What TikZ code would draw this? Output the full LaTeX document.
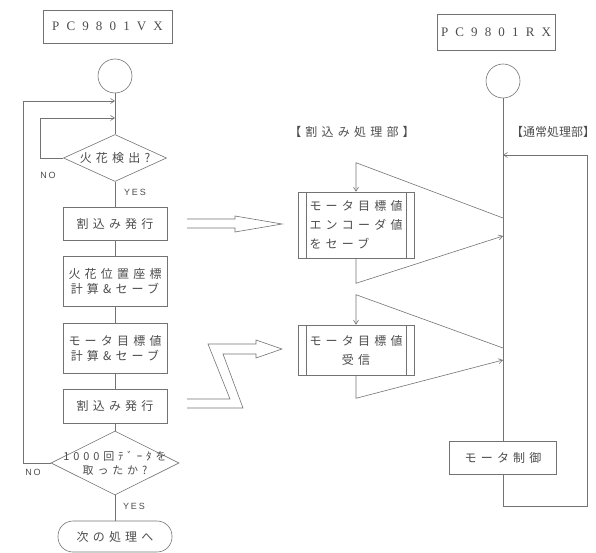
\documentclass[tikz,border=0pt]{standalone}
\usepackage{fontspec}
\usepackage{tikz}
\usetikzlibrary{arrows.meta,positioning,shapes.geometric}
\newfontfamily\jpfont[LetterSpace=35]{Noto Sans CJK JP}
\newfontfamily\jptight{Noto Sans CJK JP}
\newfontfamily\pcfont[LetterSpace=55]{Liberation Serif}
\newfontfamily\ynfont[LetterSpace=20]{Liberation Sans}

\begin{document}
\begin{tikzpicture}[x=1pt,y=-1pt,
  wire/.style={draw=black!55, line width=0.6pt},
  arr/.style={wire, -{Straight Barb[length=4pt,width=5pt]}},
  txt/.style={text=black!70},
  pcbox/.style={wire, txt, rectangle, inner sep=0pt, font=\pcfont\fontsize{13}{15}\selectfont},
  startc/.style={wire, circle, minimum size=34pt, inner sep=0pt},
  proc/.style={wire, txt, rectangle, inner sep=0pt, minimum width=104pt, align=center,
    font=\jpfont\fontsize{12}{15}\selectfont},
  sub/.style={proc, minimum width=116pt, font=\jpfont\fontsize{12}{19}\selectfont,
    path picture={
      \draw[wire] ([xshift=8pt]path picture bounding box.north west) -- ([xshift=8pt]path picture bounding box.south west);
      \draw[wire] ([xshift=-8pt]path picture bounding box.north east) -- ([xshift=-8pt]path picture bounding box.south east);}},
  dec/.style={wire, diamond, inner sep=0pt},
  yn/.style={txt, font=\ynfont\fontsize{9}{9}\selectfont}]

  \useasboundingbox (0,0) rectangle (596,553);

  \node[pcbox, minimum width=129pt, minimum height=33pt] (vx) at (107.5,26.5) {PC9801VX};
  \node[startc] (s1) at (115,76) {};
  \node[dec, minimum width=103pt, minimum height=47pt] (d1) at (115,158) {};
  \node[txt, font=\jpfont\fontsize{12}{12}\selectfont] (d1t) at (d1) {火花検出?};
  \node[proc, minimum height=33pt] (b1) at (115,223.5) {割込み発行};
  \node[proc, minimum height=50pt] (b2) at (115,281) {火花位置座標\\計算\&セーブ};
  \node[proc, minimum height=50pt] (b3) at (115,348) {モータ目標値\\計算\&セーブ};
  \node[proc, minimum height=34pt] (b4) at (115,406) {割込み発行};
  \node[dec, minimum width=128pt, minimum height=64pt] (d2) at (115,463) {};
  \node[txt, align=center, font=\jpfont\fontsize{11}{14}\selectfont] (d2t) at (d2) {1000回ﾃﾞｰﾀを\\取ったか?};
  \node[proc, rounded corners=15pt, minimum width=114pt, minimum height=31pt] (e1) at (115,536.5) {次の処理へ};

  \coordinate (j1) at (115,101);
  \coordinate (j2) at (115,118);

  \draw[wire] (s1) -- (d1);
  \draw[wire] (d1) -- (b1);
  \draw[wire] (b1) -- (b2);
  \draw[wire] (b2) -- (b3);
  \draw[wire] (b3) -- (b4);
  \draw[wire] (b4) -- (d2);
  \draw[wire] (d2) -- (e1);
  \draw[arr] (d1.west) -- ++(-23,0) |- (j2);
  \draw[arr] (d2.west) -- ++(-27,0) |- (j1);

  \node[yn] (no1) at (48,175) {NO};
  \node[yn] (yes1) at (135,192) {YES};
  \node[yn] (no2) at (33,472) {NO};
  \node[yn] (yes2) at (134,506) {YES};

  \draw[wire] (187,219) -- (235,219) -- (235,216) -- (282,224) -- (235,232) -- (235,228) -- (187,228);
  \draw[wire] (187,399) -- (230,399) -- (208,344) -- (256,344) -- (256,340) -- (282,349)
    -- (256,358) -- (256,354) -- (223,354) -- (243,408) -- (187,408);

  \node[pcbox, minimum width=118pt, minimum height=36pt] (rx) at (496,32) {PC9801RX};
  \node[startc] (s2) at (503,81) {};
  \node[txt, font=\jpfont\fontsize{12}{12}\selectfont] (lbl1) at (352,132) {【割込み処理部】};
  \node[txt, font=\jptight\fontsize{12}{12}\selectfont] (lbl2) at (553,132) {【通常処理部】};
  \node[sub, minimum height=66pt, align=left] (i1) at (356,225) {モータ目標値\\エンコーダ値\\をセーブ};
  \node[sub, minimum height=50pt] (i2) at (356,350) {モータ目標値\\受信};
  \node[proc, minimum width=107pt, minimum height=33pt] (mc) at (503,457.5) {モータ制御};

  \coordinate (c0) at (503,155);
  \coordinate (c1a) at (503,218);
  \coordinate (c1b) at (503,236);
  \coordinate (c2a) at (503,348);
  \coordinate (c2b) at (503,360);

  \draw[wire] (s2) -- (mc);
  \draw[arr] (c1a) -- ([yshift=29pt]i1.north) -- (i1.north);
  \draw[arr] (i1.south) -- ++(0,25) -- (c1b);
  \draw[arr] (c2a) -- ([yshift=30pt]i2.north) -- (i2.north);
  \draw[arr] (i2.south) -- ++(0,23) -- (c2b);
  \draw[arr] (mc.south) -- ++(0,32) -- ++(84,0) |- (c0);
\end{tikzpicture}
\end{document}
